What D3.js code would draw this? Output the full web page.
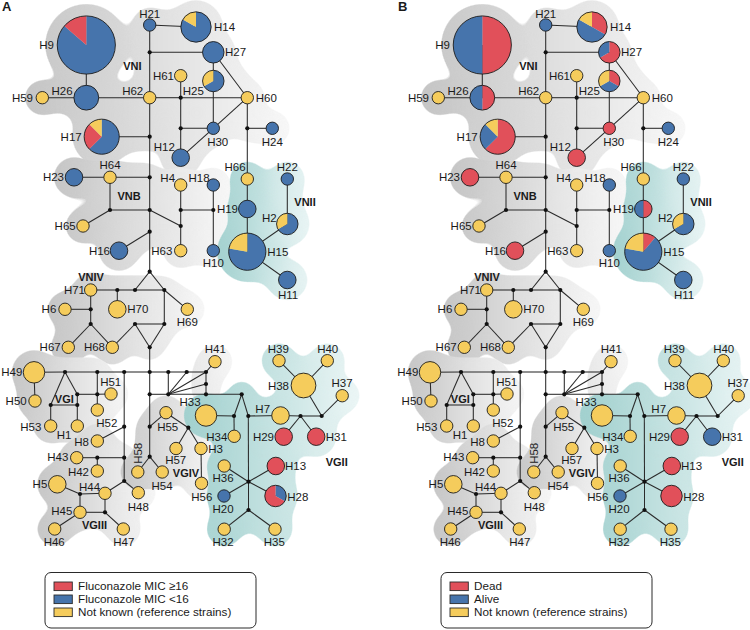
<!DOCTYPE html>
<html><head><meta charset="utf-8">
<script src="https://cdn.jsdelivr.net/npm/d3@7"></script>
<style>
body{margin:0;background:#fff;}
svg text{font-family:"Liberation Sans",Arial,Helvetica,sans-serif;fill:#1a1a1a;}
</style></head><body>
<svg id="chart" width="750" height="630"></svg>
<script>
// ---------------- DATA ----------------
const haplotypes = ["H9","H26","H59","H17","H21","H14","H27","H61","H25","H62","H60","H30","H24","H12",
  "H66","H22","H64","H23","H4","H18","H19","H2","H65","H16","H63","H10","H15","H11",
  "H71","H70","H6","H69","H67","H68",
  "H49","H50","H53","H1","H51","H52","H8","H43","H42","H5","H44","H45","H46","H47","H48",
  "H41","H55","H57","H3","H56","H58","H54",
  "H33","H34","H7","H29","H31","H38","H39","H40","H37","H13","H36","H28","H20","H32","H35"];
// Panel A: fluconazole MIC
const micGE16 = [3,0,0,2,0,0,0,0,0,0,0,0,0,0, 0,0,0,0,0,0,0,0,0,0,0,0,0,0, 0,0,0,0,0,0,
  0,0,0,0,0,0,0,0,0,0,0,0,0,0,0, 0,0,0,0,0,0,0, 0,0,0,2,2,0,0,0,0,2,0,2,0,0,0];
const micLT16 = [19,4,0,5,1,5,3,0,2,0,0,1,1,2, 0,1,0,2,0,1,2,2,0,2,0,1,7,2, 0,0,0,0,0,0,
  0,0,0,0,0,0,0,0,0,0,0,0,0,0,0, 0,0,0,0,0,0,0, 0,0,0,0,0,0,0,0,0,0,0,1,1,0,0];
// Panel B: outcome
const dead  = [11,2,0,5,0,2,2,0,1,0,0,1,0,2, 0,0,0,2,0,0,1,0,0,2,0,0,1,0, 0,0,0,0,0,0,
  0,0,0,0,0,0,0,0,0,0,0,0,0,0,0, 0,0,0,0,0,0,0, 0,0,0,2,0,0,0,0,0,2,0,3,0,0,0];
const alive = [11,2,0,2,1,3,1,0,1,0,0,0,1,0, 0,1,0,0,0,1,1,2,0,0,0,1,6,2, 0,0,0,0,0,0,
  0,0,0,0,0,0,0,0,0,0,0,0,0,0,0, 0,0,0,0,0,0,0, 0,0,0,0,2,0,0,0,0,0,0,0,1,0,0];
// Reference strains (not known) – same in both panels
const reference = [0,0,1,1,0,1,0,1,1,1,1,0,0,0, 1,0,1,0,1,0,0,1,1,0,1,0,2,0, 1,2,1,1,1,1,
  3,1,1,1,1,1,1,1,1,2,1,1,1,1,1, 1,1,1,1,1,1,1, 3,1,2,0,0,4,1,1,1,0,1,0,0,1,1];
const legendA = ["Fluconazole MIC \u226516","Fluconazole MIC <16","Not known (reference strains)"];
const legendB = ["Dead","Alive","Not known (reference strains)"];

// ---------------- LAYOUT (network drawing positions, panel units) ----------------
const nodeLayout = {
  H21:[149.7,25],H14:[196,27],H27:[213.3,52.3],H9:[86.3,45],H61:[180.7,75.7],H25:[213.3,81],
  H62:[149.7,97.7],H60:[247.3,97.7],H26:[86.3,97.7],H59:[42.3,97.7],H17:[101.7,136.7],
  H30:[213.3,128.3],H24:[272.3,128.3],H12:[180.7,157.7],H66:[247.3,179],H22:[287.3,179],
  H64:[110,177.3],H23:[74,177.3],H4:[180.7,185],H18:[213.3,185],H19:[247.3,209],H2:[287.3,224],
  H65:[83,226],H16:[119,250.7],H63:[180.7,250.7],H10:[213.3,250.7],H15:[247.3,251.7],H11:[287.3,280],
  H71:[90.7,290],H70:[117.3,309.3],H6:[65,309.3],H69:[187.3,309.3],H67:[68.3,347.3],H68:[112.3,347.3],
  H49:[34,372.3],H50:[35,401],H53:[50.7,426],H1:[77.3,426],H51:[111,394],H52:[97.3,410],H8:[97.3,441],
  H43:[76.7,457.7],H42:[97.3,471],H5:[57.3,484.3],H44:[105,493.3],H45:[80,512.3],H46:[54.7,529],
  H47:[123.3,529],H48:[138.3,492.7],H41:[215,361.7],H55:[166,412.7],H57:[176,448.5],H3:[201,448.5],
  H56:[201.5,483.3],H58:[137.8,472],H54:[162.2,472],H33:[206,415.5],H34:[234.2,436.3],H7:[280.5,415.5],
  H29:[283.7,436.7],H31:[316.2,436.7],H38:[303.5,385.5],H39:[279,360.7],H40:[327.3,360.7],H37:[342.2,395.7],
  H13:[275.8,466],H36:[224.2,466],H28:[275.5,496],H20:[224,496],H32:[224.2,529.2],H35:[275,529.2]
};
const junctionLayout = {
  a1:[149.7,52.3],a2:[180.7,97.7],a3:[180.7,128.3],a4:[247.3,128.3],a5:[149.7,136.7],a6:[149.7,177.3],
  a7:[110,210],a8:[149.7,210],a9:[180.7,210],a10:[213.3,210],a11:[180.7,226],a12:[149.7,231.7],
  a13:[149.7,271.7],a14:[135,290],a15:[164.3,290],a16:[117.3,290],a17:[90.7,309.3],a18:[90.7,324],
  a19:[135,324],a20:[164.3,324],a21:[149.7,347.3],
  b1:[65,372],b2:[97.3,372],b3:[124.2,372],b4:[149.7,372],b5:[168.3,372],b6:[186.7,372],b7:[206,372],
  b8:[50.7,405],b9:[77.3,394.3],b10:[77.3,405],b11:[97.3,394.3],b12:[149.7,394.3],b13:[168.3,394.3],
  b14:[206,384],b15:[206,394.3],b16:[241.7,394.3],b17:[124.2,426.7],b18:[124.2,457.7],b19:[97.3,457.7],
  b20:[124.2,481],b21:[80,494],b22:[105,512.3],b23:[149.7,426.7],b24:[149.7,456.7],b25:[188.3,427.7],
  b26:[234,416],b27:[248.3,416],b28:[248.5,481.7],b29:[248.5,510],b30:[300.5,416],b31:[321.7,416]
};
const edges = [
  ["H21","H14"],["H21","a1"],["a1","H62"],["H62","a5"],["a5","a6"],["a6","a8"],["a8","a12"],["a12","a13"],
  ["a1","H27"],["H9","H26"],["H59","H26"],["H26","H62"],["H62","a2"],["a2","H60"],
  ["H61","a2"],["a2","a3"],["a3","H12"],["a3","H30"],["H27","H25"],["H25","H30"],["H27","H60"],
  ["H60","H30"],["H30","H12"],["H60","a4"],["a4","H66"],["H66","H19"],["H19","H15"],["a4","H24"],
  ["a5","H17"],["a6","H64"],["H64","H23"],["H64","a7"],["a7","a8"],["a7","H65"],
  ["a8","a11"],["H4","a9"],["a9","a11"],["a11","H63"],["a9","a10"],["H18","a10"],["a10","H10"],
  ["a12","H16"],["H22","H2"],["H2","H15"],["H15","H11"],
  ["a13","a14"],["a13","a15"],["a16","a14"],["a14","a15"],["H71","a16"],["a16","H70"],["a15","H69"],
  ["H71","a17"],["a17","H6"],["a17","a18"],["a18","H67"],["a18","H68"],
  ["H68","a19"],["a19","a20"],["a19","a21"],["a20","a21"],["a15","a20"],["a21","b4"],
  ["H49","b1"],["b1","b2"],["b2","b3"],["b3","b4"],["b4","b5"],["b5","b6"],["b6","b7"],["H49","H50"],
  ["b1","b8"],["b1","b9"],["b8","b10"],["b9","b10"],["b8","H53"],["b10","H1"],
  ["b9","b11"],["b11","H51"],["b2","b11"],["b11","H52"],
  ["b3","b17"],["b17","b18"],["b18","b20"],["b17","H8"],["H43","b19"],["b19","b18"],["b19","H42"],
  ["b20","H44"],["b20","H48"],["H5","b21"],["b21","H44"],["b21","H45"],["H45","b22"],["H44","b22"],
  ["b22","H47"],["H45","H46"],
  ["b4","b12"],["b12","b23"],["b23","b24"],["b23","H55"],["H55","b25"],["b25","H57"],["b25","H3"],
  ["H3","H56"],["b24","H58"],["b24","H54"],
  ["b12","b13"],["b13","b15"],["b15","b16"],["b5","b13"],["b7","b14"],["b14","b15"],
  ["b13","b6"],["b13","b7"],["b13","b14"],["b7","H41"],
  ["b16","b26"],["b16","b27"],["H33","b26"],["b26","H34"],["b27","H7"],["H7","b30"],["b30","b31"],
  ["b30","H29"],["b30","H31"],["b31","H38"],["b31","H37"],["H38","H39"],["H38","H40"],
  ["b27","b28"],["b28","b29"],["b28","H36"],["b28","H13"],["b28","H20"],["b28","H28"],
  ["b29","H32"],["b29","H35"]
];
// label spots: [x, y(centre), anchor]
const labelSpots = {
  H21:[149.7,14,"middle"],H14:[214,27,"start"],H27:[225,52.3,"start"],H9:[54,45,"end"],
  H61:[174,75.7,"end"],H25:[193.3,90.7,"middle"],H62:[132.7,90.7,"middle"],H60:[255.7,97.7,"start"],
  H26:[62,90.7,"middle"],H59:[33,97.7,"end"],H17:[81.7,136.7,"end"],H30:[217.7,141.7,"middle"],
  H24:[272.3,141.7,"middle"],H12:[164.3,146.7,"middle"],H66:[235,167.3,"middle"],H22:[287.3,166.7,"middle"],
  H64:[110,165,"middle"],H23:[64,177.3,"end"],H4:[167.7,177.7,"middle"],H18:[199,177.7,"middle"],
  H19:[238,209,"end"],H2:[276.7,218.3,"end"],H65:[75.7,226,"end"],H16:[110,250.7,"end"],
  H63:[172.3,250.7,"end"],H10:[213.3,263.3,"middle"],H15:[267.3,251.7,"start"],H11:[288,295,"middle"],
  H71:[85,290,"end"],H6:[56.3,309.3,"end"],H70:[127.3,309.3,"start"],H69:[187.3,322.3,"middle"],
  H67:[60.7,347.3,"end"],H68:[105,347.3,"end"],H41:[215.3,349.3,"middle"],H39:[278.3,349.3,"middle"],
  H40:[327.7,349.3,"middle"],H49:[22.3,372.3,"end"],H51:[110.7,381.7,"middle"],H38:[289,386,"end"],
  H37:[342,383.3,"middle"],H50:[26.7,400.7,"end"],H33:[190,401.7,"middle"],H7:[262.7,409,"middle"],
  H52:[106.8,422.7,"middle"],H55:[167.7,426.7,"middle"],H53:[41.3,426.7,"end"],H1:[64,435,"middle"],
  H34:[227.3,436.7,"end"],H29:[274,436.7,"end"],H31:[325.7,436.7,"start"],H8:[89,441.7,"end"],
  H3:[208.3,449.3,"start"],H43:[68.3,457.3,"end"],H13:[285,465.7,"start"],H57:[175.7,460.3,"middle"],
  H58:[138.3,453.3,"rot"],H42:[89,472.3,"end"],H36:[223,478.3,"middle"],H5:[47.3,484.3,"end"],
  H44:[89.5,486.7,"middle"],H54:[162,486,"middle"],H56:[212.3,496.7,"end"],H28:[287.3,496.7,"start"],
  H20:[223,509.3,"middle"],H45:[72.3,511,"end"],H48:[138.3,506.7,"middle"],H46:[54.2,541.7,"middle"],
  H47:[123.8,541.7,"middle"],H32:[223,541.7,"middle"],H35:[274.3,541.7,"middle"]
};
const groupNames = [
  {name:"VNI",x:132.3,y:66},{name:"VNB",x:129,y:196},{name:"VNII",x:305,y:201.7},{name:"VNIV",x:91,y:276.7},
  {name:"VGI",x:64.3,y:399.5},{name:"VGII",x:336.7,y:462.3},{name:"VGIV",x:186,y:473},{name:"VGIII",x:94.5,y:525}
];
const blobs = [
  {id:"vni",tone:"gray",members:["H9","H59","H26","H17","H21","H14","H27","H61","H25","H62","H60","H12","H30","H24","a1","a2","a3","a4","a5"]},
  {id:"vnb",tone:"gray",members:["H23","H64","H65","H16","H4","H18","H63","H10","a6","a7","a8","a9","a10","a11","a12"]},
  {id:"vniv",tone:"gray",members:["H71","H6","H70","H69","H67","H68","a14","a15","a16","a17","a18","a19","a20","a21"]},
  {id:"vgi",tone:"gray",members:["H49","H50","H53","H1","b1","b2","b8","b9","b10","b11","H51","H52"]},
  {id:"vgiii",tone:"gray",members:["H43","H42","H8","H5","H44","H45","H46","H47","H48","b18","b19","b20","b21","b22"]},
  {id:"vgiv",tone:"gray",members:["H55","H57","H3","H56","H58","H54","b23","b24","b25"]},
  {id:"h41",tone:"light",members:["H41","b7","b14","b15"]},
  {id:"vnii",tone:"teal",members:["H66","H19","H22","H2","H15","H11"]},
  {id:"vgii",tone:"teal",members:["H33","H34","H7","H29","H31","H38","H39","H40","H37","H13","H36","H28","H20","H32","H35","b16","b26","b27","b28","b29","b30","b31"]}
];

// ---------------- DRAW ----------------
const W = 750, H = 630;
const RED = "#e1505a", BLUE = "#4674ac", YELLOW = "#f5cc5c";
const svg = d3.select("#chart");
const defs = svg.append("defs");
const goo = defs.append("filter").attr("id","goo").attr("filterUnits","userSpaceOnUse")
  .attr("x",0).attr("y",0).attr("width",W).attr("height",H).attr("color-interpolation-filters","sRGB");
goo.append("feGaussianBlur").attr("in","SourceGraphic").attr("stdDeviation",8).attr("result","b");
goo.append("feColorMatrix").attr("in","b").attr("mode","matrix")
  .attr("values","1 0 0 0 0  0 1 0 0 0  0 0 1 0 0  0 0 0 16 -7");

const tones = {
  gray:[["0%","#c4c4c4"],["55%","#e2e2e2"],["100%","#f8f8f8"]],
  light:[["0%","#e6e6e6"],["100%","#f8f8f8"]],
  teal:[["0%","#9fcfcd"],["55%","#c8e4e3"],["100%","#eef7f7"]]
};

const rScale = d3.scaleSqrt().domain([0,22]).range([0, 6.2*Math.sqrt(22)]);

function drawPanel(key, offsetX, series, colors, legendLabels, legendColors, letter){
  const x = d3.scaleLinear().domain([0,375]).range([offsetX, offsetX+375]);
  const y = d3.scaleLinear().domain([0,630]).range([0,630]);
  const g = svg.append("g");
  const nodes = haplotypes.map((id,i)=>{
    const vals = series.map(s=>s[i]);
    return {id, vals, total:d3.sum(vals), px:x(nodeLayout[id][0]), py:y(nodeLayout[id][1])};
  });
  const byId = {};
  nodes.forEach(n=>{byId[n.id]={x:n.px,y:n.py,r:rScale(n.total)};});
  Object.entries(junctionLayout).forEach(([id,p])=>{byId[id]={x:x(p[0]),y:y(p[1]),r:2};});

  // blobs
  blobs.forEach(b=>{
    const set = new Set(b.members);
    const pts = [];
    const pad = 12;
    b.members.forEach(m=>{const p=byId[m]; pts.push({x:p.x,y:p.y,r:p.r+pad});});
    edges.forEach(([u,v])=>{
      if(set.has(u)&&set.has(v)){
        const p=byId[u], q=byId[v];
        const d=Math.hypot(q.x-p.x,q.y-p.y), n=Math.max(1,Math.ceil(d/5));
        for(let k=1;k<n;k++){const t=k/n; pts.push({x:p.x+(q.x-p.x)*t,y:p.y+(q.y-p.y)*t,r:pad+2});}
      }
    });
    const x0=d3.min(pts,p=>p.x-p.r), x1=d3.max(pts,p=>p.x+p.r);
    const gid=`grad-${key}-${b.id}`;
    const lg=defs.append("linearGradient").attr("id",gid).attr("gradientUnits","userSpaceOnUse")
      .attr("x1",x0).attr("x2",x1).attr("y1",0).attr("y2",0);
    tones[b.tone].forEach(s=>lg.append("stop").attr("offset",s[0]).attr("stop-color",s[1]));
    g.append("g").attr("filter","url(#goo)").selectAll("circle").data(pts).join("circle")
      .attr("cx",d=>d.x).attr("cy",d=>d.y).attr("r",d=>d.r).attr("fill",`url(#${gid})`);
  });

  // edges
  g.append("g").selectAll("line").data(edges).join("line")
    .attr("x1",d=>byId[d[0]].x).attr("y1",d=>byId[d[0]].y)
    .attr("x2",d=>byId[d[1]].x).attr("y2",d=>byId[d[1]].y)
    .attr("stroke","#2a2a2a").attr("stroke-width",1.05);

  // junction dots
  g.append("g").selectAll("circle").data(Object.keys(junctionLayout)).join("circle")
    .attr("cx",d=>byId[d].x).attr("cy",d=>byId[d].y).attr("r",2.1).attr("fill","#111");

  // nodes (pies)
  const pie = d3.pie().sort(null).value(d=>d);
  const ng = g.append("g").selectAll("g").data(nodes).join("g")
    .attr("transform",d=>`translate(${d.px},${d.py})`);
  ng.each(function(d){
    const r = rScale(d.total);
    const arc = d3.arc().innerRadius(0).outerRadius(r);
    d3.select(this).selectAll("path").data(pie(d.vals).filter(a=>a.value>0)).join("path")
      .attr("d",arc).attr("fill",a=>colors[a.index]);
    d3.select(this).append("circle").attr("r",r).attr("fill","none")
      .attr("stroke","#1c1c1c").attr("stroke-width",0.9);
  });

  // node labels
  const lg = g.append("g").attr("font-size","11.5px");
  haplotypes.forEach(id=>{
    const s = labelSpots[id];
    if(s[2]==="rot"){
      lg.append("text").attr("transform",`translate(${x(s[0])},${y(s[1])}) rotate(-90)`)
        .attr("text-anchor","middle").attr("dy","0.35em").text(id);
    } else {
      lg.append("text").attr("x",x(s[0])).attr("y",y(s[1])).attr("dy","0.35em")
        .attr("text-anchor",s[2]).text(id);
    }
  });
  // group names
  g.append("g").selectAll("text").data(groupNames).join("text")
    .attr("x",d=>x(d.x)).attr("y",d=>y(d.y)).attr("dy","0.35em").attr("text-anchor","middle")
    .attr("font-size","11px").attr("font-weight","bold").text(d=>d.name);

  // panel letter
  g.append("text").attr("x",x(2)).attr("y",11).attr("font-size","13px").attr("font-weight","bold").text(letter);

  // legend
  const leg = g.append("g");
  leg.append("rect").attr("x",x(45)).attr("y",572.5).attr("width",211).attr("height",55.5)
    .attr("rx",6).attr("fill","#fff").attr("stroke","#2a2a2a").attr("stroke-width",1);
  const rows = leg.selectAll("g").data(legendLabels).join("g")
    .attr("transform",(d,i)=>`translate(${x(54)},${586.3+i*13})`);
  rows.append("rect").attr("x",0).attr("y",-4.3).attr("width",18.3).attr("height",8.6)
    .attr("fill",(d,i)=>legendColors[i]).attr("stroke","#2a2a2a").attr("stroke-width",0.9);
  rows.append("text").attr("x",24).attr("y",0).attr("dy","0.35em").attr("font-size","11.7px").text(d=>d);
}

drawPanel("A", 0, [micLT16, micGE16, reference], [BLUE, RED, YELLOW], legendA, [RED, BLUE, YELLOW], "A");
drawPanel("B", 396, [dead, alive, reference], [RED, BLUE, YELLOW], legendB, [RED, BLUE, YELLOW], "B");
</script>
</body></html>
